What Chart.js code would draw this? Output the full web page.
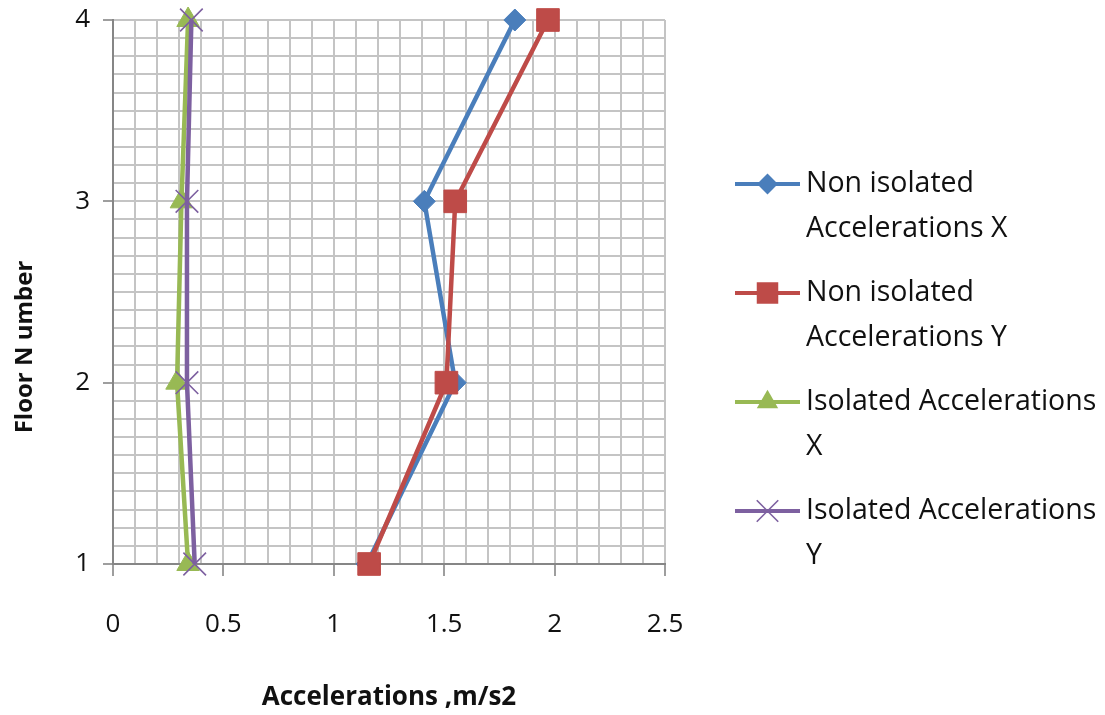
<!DOCTYPE html>
<html>
<head>
<meta charset="utf-8">
<title>Floor accelerations</title>
<script src="https://cdn.jsdelivr.net/npm/chart.js@4.4.1/dist/chart.umd.min.js"></script>
<style>
  html, body { margin: 0; padding: 0; background: #ffffff; }
  #wrap { position: relative; width: 1105px; height: 715px; }
</style>
</head>
<body>
<div id="wrap"><canvas id="chart"></canvas></div>
<script>
// Floor levels (vertical axis) and peak accelerations in m/s2 (horizontal axis)
const floors = [1, 2, 3, 4];
const nonIsolatedX = [1.15, 1.55, 1.41, 1.82];
const nonIsolatedY = [1.16, 1.51, 1.55, 1.97];
const isolatedX = [0.34, 0.29, 0.31, 0.34];
const isolatedY = [0.37, 0.335, 0.335, 0.355];

const seriesLabels = [
  ['Non isolated', 'Accelerations X'],
  ['Non isolated', 'Accelerations Y'],
  ['Isolated Accelerations', 'X'],
  ['Isolated Accelerations', 'Y']
];
const seriesValues = [nonIsolatedX, nonIsolatedY, isolatedX, isolatedY];
const seriesColors = ['#4a7ebb', '#be4b48', '#98b954', '#7d60a0'];
const seriesMarkers = ['rectRot', 'rect', 'triangle', 'crossRot'];
const markerRadius = [11, 16, 13, 16];

// Axis ranges and tick spacing
const xRange = [0, 2.5];
const xLabelStep = 0.5;
const yRange = [1, 4];
const yLabelStep = 1;
const gridStep = 0.1;

const xTitle = 'Accelerations ,m/s2';
const yTitle = 'Floor N umber';

const TEXT_FONT = '"Open Sans", "Noto Sans", sans-serif';
const AXIS_COLOR = '#868686';
const GRID_COLOR = '#c4c4c4';

function isMultiple(v, step) {
  const r = v / step;
  return Math.abs(r - Math.round(r)) < 1e-6;
}

function fmt(v) {
  return String(Math.round(v * 100) / 100);
}

const datasets = seriesValues.map((vals, i) => ({
  label: seriesLabels[i].join(' '),
  data: vals.map((v, k) => ({ x: v, y: floors[k] })),
  showLine: true,
  borderColor: seriesColors[i],
  backgroundColor: seriesColors[i],
  borderWidth: 4.5,
  pointStyle: seriesMarkers[i],
  pointRadius: markerRadius[i],
  pointBorderWidth: seriesMarkers[i] === 'crossRot' ? 1.6 : 1,
  pointBorderColor: seriesColors[i],
  pointBackgroundColor: seriesColors[i],
  tension: 0,
  clip: false,
  order: seriesValues.length - 1 - i
}));

// Draws a legend marker in the same shape as the series point style
function drawMarker(ctx, style, x, y, r, color) {
  ctx.save();
  ctx.fillStyle = color;
  ctx.strokeStyle = color;
  ctx.beginPath();
  if (style === 'rectRot') {
    ctx.moveTo(x, y - r); ctx.lineTo(x + r, y); ctx.lineTo(x, y + r); ctx.lineTo(x - r, y);
    ctx.closePath(); ctx.fill();
  } else if (style === 'rect') {
    const s = r * Math.SQRT1_2;
    ctx.rect(x - s, y - s, 2 * s, 2 * s); ctx.fill();
  } else if (style === 'triangle') {
    const w = r * Math.sqrt(3) / 2;
    ctx.moveTo(x, y - r); ctx.lineTo(x + w, y + r / 2); ctx.lineTo(x - w, y + r / 2);
    ctx.closePath(); ctx.fill();
  } else if (style === 'crossRot') {
    const o = r * Math.SQRT1_2;
    ctx.lineWidth = 1.6;
    ctx.moveTo(x - o, y - o); ctx.lineTo(x + o, y + o);
    ctx.moveTo(x + o, y - o); ctx.lineTo(x - o, y + o);
    ctx.stroke();
  }
  ctx.restore();
}

const sideLegend = {
  id: 'sideLegend',
  afterDraw(chart) {
    const ctx = chart.ctx;
    const lineX0 = 735, lineX1 = 800, textX = 806;
    const firstY = 184, entryGap = 109, lineGap = 45;
    ctx.save();
    ctx.font = '28.5px ' + TEXT_FONT;
    ctx.textBaseline = 'middle';
    ctx.textAlign = 'left';
    chart.data.datasets.forEach((ds, i) => {
      const y = firstY + i * entryGap;
      ctx.strokeStyle = seriesColors[i];
      ctx.lineWidth = 4;
      ctx.beginPath();
      ctx.moveTo(lineX0, y); ctx.lineTo(lineX1, y);
      ctx.stroke();
      drawMarker(ctx, seriesMarkers[i], (lineX0 + lineX1) / 2, y, markerRadius[i] * 0.95, seriesColors[i]);
      ctx.fillStyle = '#111111';
      seriesLabels[i].forEach((line, j) => {
        ctx.fillText(line, textX, y + j * lineGap);
      });
    });
    ctx.restore();
  }
};

const axisTitles = {
  id: 'axisTitles',
  afterDraw(chart) {
    const ctx = chart.ctx;
    const a = chart.chartArea;
    ctx.save();
    ctx.fillStyle = '#111111';
    ctx.textAlign = 'center';
    ctx.textBaseline = 'middle';
    ctx.font = 'bold 26px ' + TEXT_FONT;
    ctx.fillText(xTitle, (a.left + a.right) / 2, 698);
    ctx.font = 'bold 24px ' + TEXT_FONT;
    ctx.translate(25, 347);
    ctx.rotate(-Math.PI / 2);
    ctx.fillText(yTitle, 0, 0);
    ctx.restore();
  }
};

new Chart(document.getElementById('chart'), {
  type: 'scatter',
  data: { datasets },
  plugins: [sideLegend, axisTitles],
  options: {
    responsive: true,
    maintainAspectRatio: false,
    devicePixelRatio: 1,
    animation: false,
    events: [],
    layout: { padding: { top: 20, right: 440, left: 0, bottom: 0 } },
    plugins: {
      legend: { display: false },
      tooltip: { enabled: false },
      title: { display: false }
    },
    scales: {
      x: {
        type: 'linear',
        min: xRange[0],
        max: xRange[1],
        afterFit(scale) { scale.height = 151; },
        ticks: {
          stepSize: gridStep,
          autoSkip: false,
          maxRotation: 0,
          padding: 33,
          color: '#111111',
          font: { family: TEXT_FONT, size: 26 },
          callback: v => isMultiple(v, xLabelStep) ? fmt(v) : ''
        },
        grid: {
          color: GRID_COLOR,
          lineWidth: 2,
          tickLength: 12,
          tickWidth: 1.6,
          tickColor: c => (c.tick && isMultiple(c.tick.value, xLabelStep)) ? AXIS_COLOR : 'rgba(0,0,0,0)'
        },
        border: { color: AXIS_COLOR, width: 2 }
      },
      y: {
        type: 'linear',
        min: yRange[0],
        max: yRange[1],
        afterFit(scale) {
          scale.width = 113;
          // keep the label padding from pushing the plot area down
          scale.paddingTop = 10;
          scale.paddingBottom = 10;
        },
        ticks: {
          stepSize: gridStep,
          autoSkip: false,
          padding: 13,
          color: '#111111',
          font: { family: TEXT_FONT, size: 26 },
          callback: v => isMultiple(v, yLabelStep) ? fmt(v) : ''
        },
        grid: {
          color: GRID_COLOR,
          lineWidth: 2,
          tickLength: 10,
          tickWidth: 1.6,
          tickColor: c => (c.tick && isMultiple(c.tick.value, yLabelStep)) ? AXIS_COLOR : 'rgba(0,0,0,0)'
        },
        border: { color: AXIS_COLOR, width: 2 }
      }
    }
  }
});
</script>
</body>
</html>
